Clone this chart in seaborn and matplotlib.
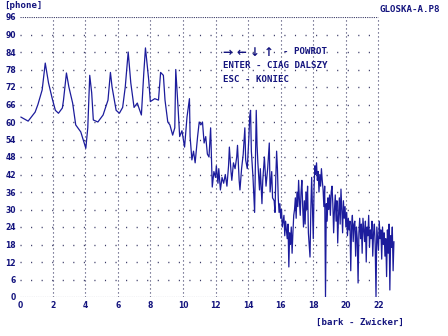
"""
Widmo glosek - wykres poziomu glosnosci (phone) w funkcji skali bark (Zwicker).
"""

import numpy as np
import pandas as pd
import matplotlib
matplotlib.use("Agg")
import matplotlib.pyplot as plt
import seaborn as sns

# dane (bark -> phone)
bark = [
    0.05, 0.5, 0.93, 1.1, 1.36, 1.55, 1.75, 1.98, 2.17, 2.36, 2.6, 2.67, 2.85, 3.0,
    3.23, 3.42, 3.73, 4.04, 4.16, 4.28, 4.4, 4.5, 4.78, 5.1, 5.4, 5.55, 5.65, 5.9,
    6.1, 6.3, 6.46, 6.64, 6.8, 7.0, 7.2, 7.3, 7.45, 7.6, 7.7, 7.9, 8.0, 8.27, 8.5,
    8.63, 8.8, 8.9, 9.07, 9.2, 9.37, 9.5, 9.56, 9.7, 9.8, 9.94,
    10.1, 10.25, 10.4, 10.44, 10.55, 10.65, 10.75, 10.9, 11.0, 11.1, 11.2, 11.3,
    11.4, 11.5, 11.6, 11.7, 11.8, 11.9, 12.0, 12.05, 12.15, 12.2, 12.3, 12.4, 12.5,
    12.6, 12.7, 12.8, 12.85, 12.95, 13.0, 13.1, 13.2, 13.3, 13.35, 13.45, 13.5,
    13.6, 13.7, 13.8, 13.85, 13.95, 14.05, 14.1, 14.15, 14.2, 14.3, 14.4, 14.45,
    14.5, 14.55, 14.6, 14.7, 14.75, 14.85, 14.9, 15.0, 15.1, 15.2, 15.3, 15.35,
    15.45, 15.5, 15.6, 15.65, 15.7, 15.75, 15.8, 15.85, 15.9, 15.95, 16.0, 16.05,
    16.1, 16.2, 16.25, 16.3, 16.4, 16.45, 16.5, 16.55, 16.6, 16.65, 16.7, 16.75,
    16.8, 16.85, 16.9, 16.95, 17.0, 17.05, 17.1, 17.15, 17.2, 17.25, 17.3, 17.35,
    17.4, 17.45, 17.5, 17.55, 17.6, 17.65, 17.7, 17.75, 17.8, 17.85, 17.9, 17.95,
    18.0, 18.05, 18.1, 18.15, 18.2, 18.25, 18.3, 18.35, 18.4, 18.45, 18.5, 18.55,
    18.6, 18.65, 18.7, 18.75, 18.8, 18.85, 18.9, 18.95, 19.0, 19.05, 19.1, 19.15,
    19.2, 19.25, 19.3, 19.35, 19.4, 19.45, 19.5, 19.55, 19.6, 19.65, 19.7, 19.75,
    19.8, 19.85, 19.9, 19.95, 20.0, 20.05, 20.1, 20.15, 20.2, 20.25, 20.3, 20.35,
    20.4, 20.45, 20.5, 20.55, 20.6, 20.65, 20.7, 20.75, 20.8, 20.85, 20.9, 20.95,
    21.0, 21.05, 21.1, 21.15, 21.2, 21.25, 21.3, 21.35, 21.4, 21.45, 21.5, 21.55,
    21.6, 21.65, 21.7, 21.75, 21.8, 21.85, 21.9, 21.95, 22.0, 22.05, 22.1, 22.15,
    22.2, 22.25, 22.3, 22.35, 22.4, 22.45, 22.5, 22.55, 22.6, 22.65, 22.7, 22.75,
    22.8, 22.85, 22.9, 22.95,
]
phon = [
    61.7, 60.3, 63.4, 66, 71, 80.2, 73.4, 68, 64, 63, 64.8, 67.5, 76.8, 72,
    66.5, 59, 56.6, 51, 58, 76, 70, 60.7, 60, 62.4, 67.5, 77, 72, 64,
    63, 65, 72, 84, 73.4, 65, 66.5, 64.8, 62.4, 77, 85.4, 74.4, 67, 68, 67.5,
    77, 76, 67.5, 60, 59, 55.5, 58, 78, 65, 55, 57,
    51.4, 61.7, 68, 55, 47, 50, 46, 55, 60, 59, 60, 52.8,
    55, 49, 48, 58, 37.7, 43, 41, 45, 39, 44, 36.7, 41, 39,
    42, 38, 45, 51.4, 43, 40, 46, 44, 48, 52, 40, 36.7,
    44, 49, 58, 47, 44, 55, 62, 64, 50, 41, 29, 46,
    64, 52, 46, 36.7, 44, 32, 40, 48, 38, 44, 52.8, 36,
    43, 34, 33, 29, 41, 50, 44, 34, 29, 32, 27, 30,
    24, 28, 21, 26, 20, 25, 10.3, 22, 18, 24, 15, 22,
    28, 30, 34, 27, 36, 31, 40, 33, 28, 36, 40, 31,
    24, 33, 25, 36, 30, 38, 22, 18, 13.7, 30, 41, 30,
    20, 38, 45, 42, 46, 40, 43, 36, 42, 38, 44, 40,
    37, 31, 38, 0, 32, 26, 34, 30, 35, 28, 36, 38,
    32, 22, 30, 35, 26, 33, 18.5, 28, 34, 25, 37, 30,
    22, 33, 27, 31, 24, 29, 21, 27, 23, 26, 9, 24,
    28, 19, 25, 26, 14, 24, 20, 4.8, 22, 27, 20, 25,
    15, 27, 23, 19, 26, 12, 24, 21, 28, 17, 23, 20,
    26, 14, 22, 25, 18, 0, 24, 20, 16, 26, 20, 23,
    13, 24, 18, 22, 14, 20, 7, 23, 15, 25, 2.4, 21,
    17, 24, 9, 19,
]

x_ticks = list(range(0, 23, 2))
y_ticks = list(range(0, 97, 6))
arrows = ["\u2192", "\u2190", "\u2193", "\u2191"]

NAVY = "#14147e"
LINE = "#1c1c9c"
DOTS = "#3a3a66"

sns.set_theme(style="white")
plt.rcParams["font.family"] = ["DejaVu Sans"]

fig = plt.figure(figsize=(4.48, 3.36), dpi=100)
ax = fig.add_axes([20 / 448, 39 / 336, 378 / 448, 280 / 336])

df = pd.DataFrame({"bark": bark, "phon": phon})

# siatka kropkowana
ax.vlines(x_ticks[1:], 0, 96, colors=DOTS, linewidth=0.8, linestyles=(0, (1, 2.6)), zorder=1)
ax.hlines(y_ticks[1:-1], 0, 22, colors=DOTS, linewidth=1.0, linestyles=(0, (0.8, 6.8)), zorder=1)
ax.hlines([0, 96], 0, 22, colors=DOTS, linewidth=0.8, linestyles=(0, (1, 1)), zorder=1)

sns.lineplot(data=df, x="bark", y="phon", sort=False, estimator=None,
             color=LINE, linewidth=0.9, ax=ax, zorder=3)

ax.set_xlim(0, 23.2)
ax.set_ylim(0, 96)
for s in ax.spines.values():
    s.set_visible(False)
ax.set_xticks(x_ticks)
ax.set_yticks(y_ticks)
ax.tick_params(length=0, labelsize=5.5, labelcolor=NAVY, pad=3)
for lab in ax.get_xticklabels() + ax.get_yticklabels():
    lab.set_fontweight("bold")
ax.set_xlabel("")
ax.set_ylabel("")
ax.patch.set_alpha(0)

txt = dict(color=NAVY, fontsize=6.6, fontweight="bold", family="DejaVu Sans Mono",
           transform=fig.transFigure)
fig.text(4 / 448, 1 - 5 / 336, "[phone]", ha="left", va="center", **txt)
fig.text(440 / 448, 1 - 9 / 336, "GLOSKA-A.P8", ha="right", va="center", **txt)
for i, a in enumerate(arrows):
    fig.text((227 + 14 * i) / 448, 1 - 52 / 336, a, ha="center", va="center",
             color=NAVY, fontsize=8.5, fontweight="bold", family="DejaVu Sans",
             transform=fig.transFigure)
fig.text(283 / 448, 1 - 52 / 336, "- POWROT", ha="left", va="center", **txt)
fig.text(223 / 448, 1 - 66 / 336, "ENTER - CIAG DALSZY", ha="left", va="center", **txt)
fig.text(223 / 448, 1 - 80 / 336, "ESC - KONIEC", ha="left", va="center", **txt)
fig.text(404 / 448, 1 - 322 / 336, "[bark - Zwicker]", ha="right", va="center", **txt)

fig.savefig("out.png", dpi=100, facecolor="white")
